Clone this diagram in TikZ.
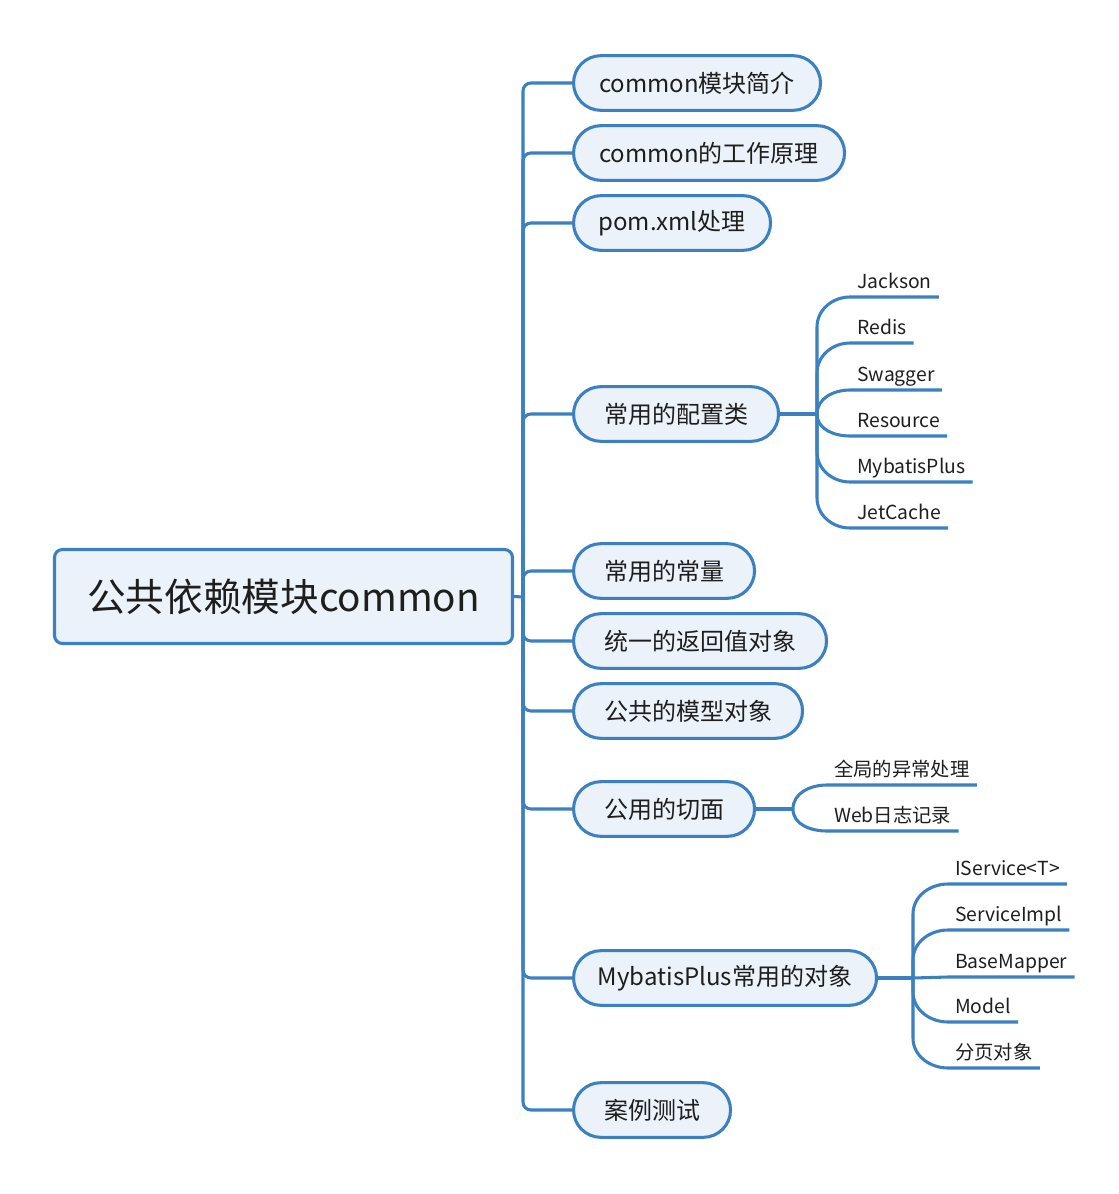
\documentclass[tikz,border=0pt]{standalone}
\usepackage{fontspec}
\setmainfont{Noto Sans CJK SC}
\usetikzlibrary{calc}
\definecolor{lineblue}{RGB}{59,128,192}
\definecolor{boxfill}{RGB}{235,242,250}
\definecolor{txt}{RGB}{30,30,30}
\begin{document}
\begin{tikzpicture}[x=0.75pt,y=0.75pt,
  conn/.style={draw=lineblue,line width=2.3pt},
  rootbox/.style={draw=lineblue,fill=boxfill,line width=2.3pt,rounded corners=6pt,
    minimum width=343.5pt,minimum height=70.5pt,font=\fontsize{29}{34}\selectfont,text=txt},
  pill/.style={draw=lineblue,fill=boxfill,line width=2.3pt,rounded corners=20.5pt,
    minimum height=41pt,anchor=west,font=\fontsize{18}{21}\selectfont,text=txt,inner xsep=0pt},
  pw/.style={minimum width=#1*0.75pt},
  leaf/.style={anchor=south west,inner xsep=5.25pt,inner ysep=0pt,text height=11pt,text depth=6.5pt,
    font=\fontsize{14.5}{17}\selectfont,text=txt},
]
\useasboundingbox (0,0) rectangle (1119,-1194);

% root
\node[rootbox] (root) at (283.5,-596.5) {公共依赖模块common};

% children
\node[pill,pw=247] (c1) at (572,-83) {common模块简介};
\node[pill,pw=271] (c2) at (572,-153) {common的工作原理};
\node[pill,pw=197] (c3) at (572,-223) {pom.xml处理};
\node[pill,pw=205] (c4) at (572,-414) {常用的配置类};
\node[pill,pw=181] (c5) at (572,-571) {常用的常量};
\node[pill,pw=253] (c6) at (572,-641) {统一的返回值对象};
\node[pill,pw=229] (c7) at (572,-711) {公共的模型对象};
\node[pill,pw=181] (c8) at (572,-809) {公用的切面};
\node[pill,pw=303] (c9) at (572,-978) {MybatisPlus常用的对象};
\node[pill,pw=157] (c10) at (572,-1110) {案例测试};

% trunk
\coordinate (jr) at (523,-597);
\draw[conn] (root.east) -- (jr);
\foreach \c in {c1,c2,c3,c4,c5,c6,c7,c8,c9,c10}
  \draw[conn,rounded corners=6pt] (jr) |- (\c.west);

% config leaves
\coordinate (jc) at (817,-414);
\draw[conn] (c4.east) -- (jc);
\node[leaf] (l1) at (850,-297) {Jackson};
\node[leaf] (l2) at (850,-343) {Redis};
\node[leaf] (l3) at (850,-390) {Swagger};
\node[leaf] (l4) at (850,-436) {Resource};
\node[leaf] (l5) at (850,-482) {MybatisPlus};
\node[leaf] (l6) at (850,-528) {JetCache};
\draw[conn] (jc) -- ($(l1.south west)+(-33,-30)$) to[out=90,in=180] (l1.south west) -- (l1.south east);
\draw[conn] (jc) -- ($(l2.south west)+(-33,-30)$) to[out=90,in=180] (l2.south west) -- (l2.south east);
\draw[conn] (jc) to[out=90,in=180] (l3.south west) -- (l3.south east);
\draw[conn] (jc) to[out=-90,in=180] (l4.south west) -- (l4.south east);
\draw[conn] (jc) -- ($(l5.south west)+(-33,30)$) to[out=-90,in=180] (l5.south west) -- (l5.south east);
\draw[conn] (jc) -- ($(l6.south west)+(-33,30)$) to[out=-90,in=180] (l6.south west) -- (l6.south east);

% aspect leaves
\coordinate (ja) at (793,-809);
\draw[conn] (c8.east) -- (ja);
\node[leaf] (a1) at (827,-785) {全局的异常处理};
\node[leaf] (a2) at (827,-831) {Web日志记录};
\draw[conn] (ja) to[out=90,in=180] (a1.south west) -- (a1.south east);
\draw[conn] (ja) to[out=-90,in=180] (a2.south west) -- (a2.south east);

% mybatis leaves
\coordinate (jm) at (913,-978);
\draw[conn] (c9.east) -- (jm);
\node[leaf] (m1) at (948,-884) {IService<T>};
\node[leaf] (m2) at (948,-930) {ServiceImpl};
\node[leaf] (m3) at (948,-977) {BaseMapper};
\node[leaf] (m4) at (948,-1022) {Model};
\node[leaf] (m5) at (948,-1068) {分页对象};
\draw[conn] (jm) -- ($(m1.south west)+(-35,-30)$) to[out=90,in=180] (m1.south west) -- (m1.south east);
\draw[conn] (jm) -- ($(m2.south west)+(-35,-30)$) to[out=90,in=180] (m2.south west) -- (m2.south east);
\draw[conn] (jm) -- (m3.south west) -- (m3.south east);
\draw[conn] (jm) -- ($(m4.south west)+(-35,30)$) to[out=-90,in=180] (m4.south west) -- (m4.south east);
\draw[conn] (jm) -- ($(m5.south west)+(-35,30)$) to[out=-90,in=180] (m5.south west) -- (m5.south east);
\end{tikzpicture}
\end{document}
